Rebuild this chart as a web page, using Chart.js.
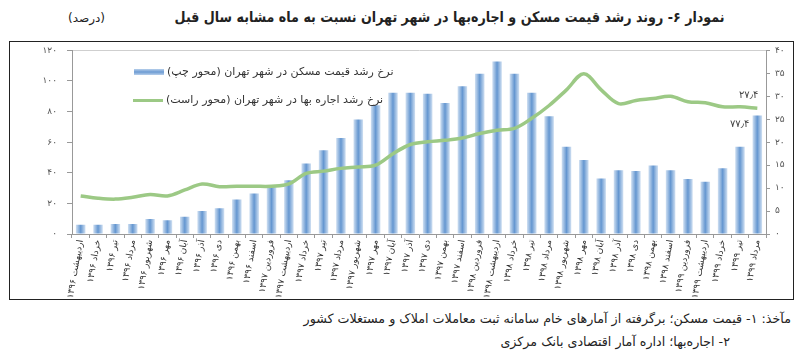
<!DOCTYPE html>
<html lang="fa">
<head>
<meta charset="utf-8">
<script src="https://cdn.jsdelivr.net/npm/chart.js@4.4.1/dist/chart.umd.min.js"></script>
<style>
  html, body { margin: 0; padding: 0; background: #fff; }
  body { width: 805px; height: 355px; position: relative; overflow: hidden; font-family: "DejaVu Sans", sans-serif; color: #222; }
  .abs { position: absolute; white-space: nowrap; }
  #title { right: 80px; top: 9px; font-size: 14.5px; font-weight: bold; transform: scaleX(0.875); transform-origin: right center; }
  #unit { left: 68px; top: 11px; font-size: 12px; }
  #frame { left: 9px; top: 41px; width: 785px; height: 259px; box-sizing: border-box; border: 1px solid #222; }
  /* canvas starts a little above the frame: the y-tick padding pushes the plot top down */
  #wrap { left: 10px; top: 35px; width: 783px; height: 264px; }
  .lg-text { font-size: 11px; color: #333; }
  #lg-bar { left: 134px; top: 69px; width: 30px; height: 6px; background: linear-gradient(to bottom, #b7cfeb, #6d9bd3 50%, #b7cfeb); }
  #lg-line { left: 133px; top: 98.5px; width: 30px; height: 3.5px; background: #9cc985; }
  #lg-t1 { left: 167px; top: 65px; }
  #lg-t2 { left: 166px; top: 93px; }
  .foot { font-size: 12.7px; }
  #f1 { right: 14px; top: 311px; }
  #f2 { right: 75px; top: 334px; }
</style>
</head>
<body>
<div id="title" class="abs" dir="rtl">نمودار ۶- روند رشد قیمت مسکن و اجاره‌بها در شهر تهران نسبت به ماه مشابه سال قبل</div>
<div id="unit" class="abs" dir="rtl">(درصد)</div>
<div id="frame" class="abs"></div>
<div id="wrap" class="abs"><canvas id="chart" dir="rtl" width="783" height="264"></canvas></div>
<div id="lg-bar" class="abs"></div>
<div id="lg-t1" class="abs lg-text" dir="rtl">نرخ رشد قیمت مسکن در شهر تهران (محور چپ)</div>
<div id="lg-line" class="abs"></div>
<div id="lg-t2" class="abs lg-text" dir="rtl">نرخ رشد اجاره بها در شهر تهران (محور راست)</div>
<div id="f1" class="abs foot" dir="rtl">مآخذ: ۱- قیمت مسکن؛ برگرفته از آمارهای خام سامانه ثبت معاملات املاک و مستغلات کشور</div>
<div id="f2" class="abs foot" dir="rtl">۲- اجاره‌بها؛ اداره آمار اقتصادی بانک مرکزی</div>

<script>
// ── Data ───────────────────────────────────────────────────────────────────
const months = [
  'اردیبهشت ۱۳۹۶', 'خرداد ۱۳۹۶', 'تیر ۱۳۹۶', 'مرداد ۱۳۹۶', 'شهریور ۱۳۹۶', 'مهر ۱۳۹۶',
  'آبان ۱۳۹۶', 'آذر ۱۳۹۶', 'دی ۱۳۹۶', 'بهمن ۱۳۹۶', 'اسفند ۱۳۹۶', 'فروردین ۱۳۹۷',
  'اردیبهشت ۱۳۹۷', 'خرداد ۱۳۹۷', 'تیر ۱۳۹۷', 'مرداد ۱۳۹۷', 'شهریور ۱۳۹۷', 'مهر ۱۳۹۷',
  'آبان ۱۳۹۷', 'آذر ۱۳۹۷', 'دی ۱۳۹۷', 'بهمن ۱۳۹۷', 'اسفند ۱۳۹۷', 'فروردین ۱۳۹۸',
  'اردیبهشت ۱۳۹۸', 'خرداد ۱۳۹۸', 'تیر ۱۳۹۸', 'مرداد ۱۳۹۸', 'شهریور ۱۳۹۸', 'مهر ۱۳۹۸',
  'آبان ۱۳۹۸', 'آذر ۱۳۹۸', 'دی ۱۳۹۸', 'بهمن ۱۳۹۸', 'اسفند ۱۳۹۸', 'فروردین ۱۳۹۹',
  'اردیبهشت ۱۳۹۹', 'خرداد ۱۳۹۹', 'تیر ۱۳۹۹', 'مرداد ۱۳۹۹'
];

// house price growth, left axis
const housePrice = [
  6, 6, 6.5, 6.5, 9.8, 9, 11.3, 15, 16.8, 22.6,
  26.5, 30.8, 35.2, 46, 54.8, 62.8, 74.8, 84.1, 92.4, 92.4,
  91.7, 85.7, 96.5, 104.8, 112.8, 104.8, 92.4, 77, 57, 48.3,
  36.3, 41.7, 41.1, 44.8, 41.7, 35.9, 34.1, 43, 57, 77.4
];

// rent growth, right axis
const rent = [
  8.3, 7.8, 7.6, 8.0, 8.6, 8.3, 9.6, 10.9, 10.3, 10.4,
  10.4, 10.4, 10.9, 13.2, 13.7, 14.3, 14.6, 15.0, 17.5, 19.5,
  20.1, 20.4, 20.9, 21.9, 22.6, 23.0, 25.2, 28.0, 31.4, 34.9,
  31.4, 28.4, 29.1, 29.5, 30.0, 28.8, 28.6, 27.7, 27.7, 27.4
];

const leftTicks  = ['۰', '۲۰', '۴۰', '۶۰', '۸۰', '۱۰۰', '۱۲۰'];
const rightTicks = ['۰', '۵', '۱۰', '۱۵', '۲۰', '۲۵', '۳۰', '۳۵', '۴۰'];

const lastRentLabel  = '۲۷٫۴';
const lastPriceLabel = '۷۷٫۴';

// ── Styling helpers ────────────────────────────────────────────────────────
const FONT = 'DejaVu Sans';
const BAR_FRAC = 0.55;

function barFill(c) {
  const chart = c.chart;
  const xs = chart.scales && chart.scales.x;
  if (!xs || c.dataIndex == null || !xs.width) return '#8cb0dc';
  const cx = xs.getPixelForValue(c.dataIndex);
  const half = (xs.width / months.length) * BAR_FRAC / 2;
  const g = chart.ctx.createLinearGradient(cx - half, 0, cx + half, 0);
  g.addColorStop(0, '#d0e0f2');
  g.addColorStop(0.5, '#6496d0');
  g.addColorStop(1, '#d0e0f2');
  return g;
}

// end-of-series value labels
const endLabels = {
  id: 'endLabels',
  afterDatasetsDraw(chart) {
    const ctx = chart.ctx;
    const linePt = chart.getDatasetMeta(0).data[rent.length - 1];
    const bar    = chart.getDatasetMeta(1).data[housePrice.length - 1];
    ctx.save();
    ctx.font = `10px "${FONT}"`;
    ctx.fillStyle = '#444';
    ctx.textAlign = 'right';
    ctx.textBaseline = 'middle';
    ctx.fillText(lastRentLabel, linePt.x + 1, linePt.y - 13);
    ctx.fillText(lastPriceLabel, bar.x - 8, bar.y + 9);
    ctx.restore();
  }
};

// ── Chart ──────────────────────────────────────────────────────────────────
new Chart(document.getElementById('chart'), {
  data: {
    labels: months,
    datasets: [
      {
        type: 'line',
        data: rent,
        yAxisID: 'y1',
        borderColor: '#9cc985',
        borderWidth: 3.5,
        tension: 0.35,
        pointRadius: 0,
        order: 0,
      },
      {
        type: 'bar',
        data: housePrice,
        yAxisID: 'y',
        backgroundColor: barFill,
        borderWidth: 0,
        categoryPercentage: 1,
        barPercentage: BAR_FRAC,
        order: 1,
      }
    ]
  },
  options: {
    responsive: false,
    animation: false,
    layout: { padding: 0 },
    plugins: { legend: { display: false }, tooltip: { enabled: false } },
    scales: {
      x: {
        offset: true,
        grid: { offset: true, drawOnChartArea: false, tickLength: 4, color: '#999' },
        border: { color: '#999' },
        ticks: {
          minRotation: 80, maxRotation: 80, autoSkip: false, padding: 1,
          color: '#333', font: { family: FONT, size: 9 }
        },
        afterFit: s => { s.height = 65; }
      },
      y: {
        position: 'left',
        min: 0, max: 120,
        ticks: {
          stepSize: 20, padding: 10, color: '#555',
          font: { family: FONT, size: 9 },
          callback: (v, i) => leftTicks[i]
        },
        grid: {
          tickLength: 5,
          color: c => (c.tick && c.tick.value === 120 ? '#cfcfcf' : 'rgba(0,0,0,0)'),
          tickColor: '#999'
        },
        border: { color: '#999' },
        afterFit: s => { s.width = 62; }
      },
      y1: {
        position: 'right',
        min: 0, max: 40,
        ticks: {
          stepSize: 5, padding: 5, color: '#555',
          font: { family: FONT, size: 9 },
          callback: (v, i) => rightTicks[i]
        },
        grid: { drawOnChartArea: false, tickLength: 4, color: '#999' },
        border: { color: '#999' },
        afterFit: s => { s.width = 27; }
      }
    }
  },
  plugins: [endLabels]
});
</script>
</body>
</html>
